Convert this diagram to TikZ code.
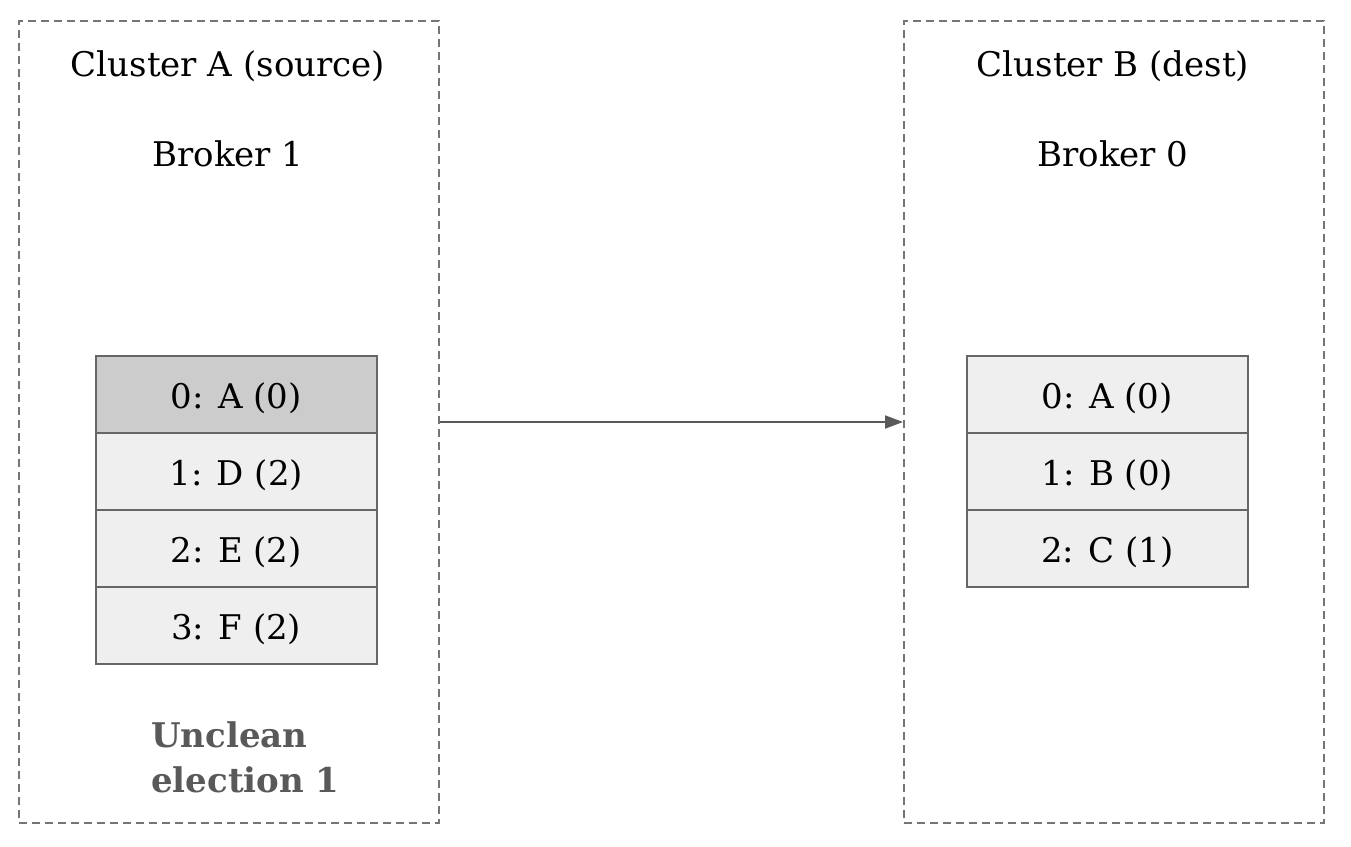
\documentclass[tikz,border=0pt]{standalone}
\usepackage{fontspec}
\setmainfont{DejaVu Serif}
\usetikzlibrary{arrows.meta}
\definecolor{edge}{HTML}{666666}
\definecolor{dash}{HTML}{757575}
\definecolor{lead}{HTML}{CCCCCC}
\definecolor{cellfill}{HTML}{EFEFEF}
\definecolor{note}{HTML}{595959}
\tikzset{
  cluster/.style={draw=dash, line width=2pt, dash pattern=on 8pt off 5pt, minimum width=420pt, minimum height=802pt, anchor=north west, inner sep=0pt},
  cell/.style={draw=edge, line width=1.5pt, fill=cellfill, minimum width=281pt, minimum height=77pt, anchor=north west, inner sep=0pt, font=\fontsize{34}{40}\selectfont, text height=29pt, text depth=0pt},
  leadcell/.style={cell, fill=lead},
  title/.style={font=\fontsize{34}{40}\selectfont, anchor=base, inner sep=0pt},
  conn/.style={draw=note, line width=2pt, -{Triangle[length=18pt,width=13pt]}},
}
\begin{document}
\begin{tikzpicture}[x=1pt,y=-1pt]
\useasboundingbox (0,0) rectangle (1351,846);
\node[cluster] (clA) at (18,20) {};
\node[cluster] (clB) at (903,20) {};
\node[title] (tA) at (228,76) {Cluster A (source)};
\node[title] (bA) at (228,166) {Broker 1};
\node[title] (tB) at (1113,76) {Cluster B (dest)};
\node[title] (bB) at (1113,166) {Broker 0};
\node[leadcell] (a0) at (95,355) {0: A (0)};
\node[cell] (a1) at (95,432) {1: D (2)};
\node[cell] (a2) at (95,509) {2: E (2)};
\node[cell] (a3) at (95,586) {3: F (2)};
\node[cell] (b0) at (966,355) {0: A (0)};
\node[cell] (b1) at (966,432) {1: B (0)};
\node[cell] (b2) at (966,509) {2: C (1)};
\node[anchor=base west, inner sep=0pt, align=left, text=note, font=\fontsize{34}{45}\selectfont\bfseries] (un) at (151,792) {Unclean\\election 1};
\draw[conn] (clA.east) -- (clB.west);
\end{tikzpicture}
\end{document}
